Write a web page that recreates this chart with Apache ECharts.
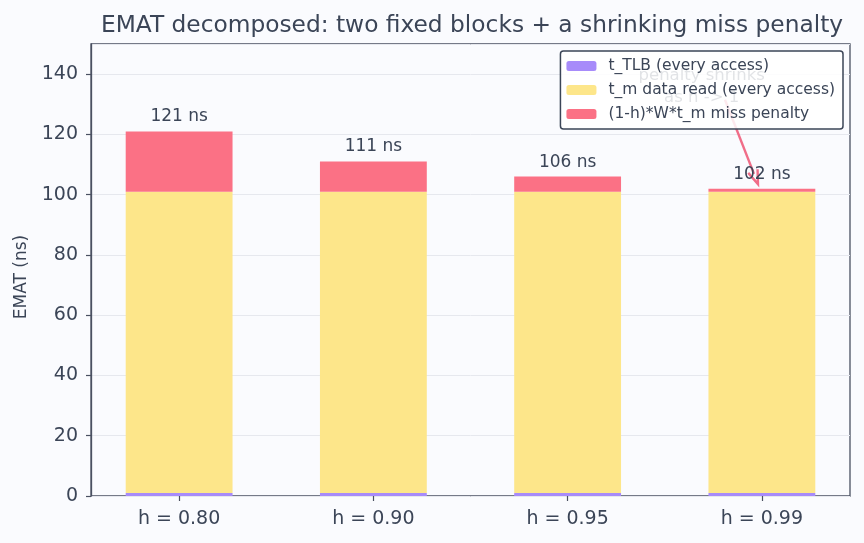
<!DOCTYPE html>
<html>
<head>
<meta charset="utf-8">
<script src="https://cdn.jsdelivr.net/npm/echarts@6/dist/echarts.min.js"></script>
<style>
  html, body { margin: 0; padding: 0; background: #fafbfe; }
  #chart { width: 864px; height: 543px; }
</style>
</head>
<body>
<div id="chart"></div>
<script>
// data
const categories = ["h = 0.80", "h = 0.90", "h = 0.95", "h = 0.99"];
const tlb = [1, 1, 1, 1];
const dataRead = [100, 100, 100, 100];
const missPenalty = [20, 10, 5, 1];
const totals = [121, 111, 106, 102];

const txt = "#3b4557";
const font = "'DejaVu Sans', sans-serif";

let chart = echarts.init(document.getElementById("chart"));

let option = {
  backgroundColor: "#fafbfe",
  textStyle: { fontFamily: font },
  title: {
    text: "EMAT decomposed: two fixed blocks + a shrinking miss penalty",
    left: 467,
    textAlign: "center",
    top: 9,
    textStyle: { color: txt, fontSize: 23.3, fontWeight: "normal", fontFamily: font },
  },
  legend: {
    orient: "vertical",
    right: 21,
    top: 51,
    z: 10,
    itemWidth: 30,
    itemHeight: 10,
    itemGap: 8,
    padding: [7, 8, 7, 6],
    backgroundColor: "rgba(255,255,255,0.85)",
    borderColor: "#3b4557",
    borderWidth: 1.5,
    borderRadius: 3,
    textStyle: { color: txt, fontSize: 15.5, fontFamily: font, padding: [0, 0, 0, 7] },
    data: ["t_TLB (every access)", "t_m data read (every access)", "(1-h)*W*t_m miss penalty"],
  },
  grid: [
    // bars grid (wider, matches matplotlib margins)
    { left: 82, width: 777, top: 44, bottom: 47, show: false },
    // frame grid
    { left: 91, right: 14, top: 44, bottom: 47, show: true, borderColor: "#4a5061", borderWidth: 1.3, backgroundColor: "transparent" },
  ],
  xAxis: [
    {
      type: "category",
      gridIndex: 0,
      data: categories,
      axisLine: { show: true, lineStyle: { color: "rgba(0,0,0,0)" } },
      axisTick: { show: true, alignWithLabel: true, length: 5, lineStyle: { color: "#4a5061", width: 1.2 } },
      axisLabel: { color: txt, fontSize: 19, margin: 14, fontFamily: font },
    },
    { type: "value", gridIndex: 1, show: false },
  ],
  yAxis: [
    { type: "value", gridIndex: 0, min: 0, max: 150, interval: 20, show: false, splitLine: { show: false } },
    {
      type: "value",
      gridIndex: 1,
      min: 0,
      max: 150,
      interval: 20,
      name: "EMAT (ns)",
      nameLocation: "middle",
      nameGap: 61,
      nameTextStyle: { color: txt, fontSize: 17, fontFamily: font, padding: [0, 14, 0, 0] },
      axisLine: { show: true, lineStyle: { color: "#4a5061", width: 1.3 } },
      axisTick: { show: true, length: 5, lineStyle: { color: "#4a5061", width: 1.2 } },
      axisLabel: { color: txt, fontSize: 19, margin: 13, showMaxLabel: false, fontFamily: font },
      splitLine: { show: true, lineStyle: { color: "#e6e8ee", width: 1 } },
    },
  ],
  series: [
    {
      name: "t_TLB (every access)",
      type: "bar",
      stack: "emat",
      xAxisIndex: 0,
      yAxisIndex: 0,
      barWidth: "55%",
      itemStyle: { color: "#a78bfa" },
      data: tlb,
    },
    {
      name: "t_m data read (every access)",
      type: "bar",
      stack: "emat",
      xAxisIndex: 0,
      yAxisIndex: 0,
      itemStyle: { color: "#fde68a" },
      data: dataRead,
    },
    {
      name: "(1-h)*W*t_m miss penalty",
      type: "bar",
      stack: "emat",
      xAxisIndex: 0,
      yAxisIndex: 0,
      itemStyle: { color: "#fb7185" },
      label: {
        show: true,
        position: "top",
        distance: 6,
        color: txt,
        fontSize: 17,
        fontFamily: font,
        formatter: (p) => totals[p.dataIndex] + " ns",
      },
      data: missPenalty,
    },
  ],
};

chart.setOption(option);

// annotation: "penalty shrinks" with arrow to the last bar
function px(xIdx, y) {
  let a = chart.convertToPixel({ gridIndex: 0 }, [categories[2], 0]);
  let b = chart.convertToPixel({ gridIndex: 0 }, [categories[3], 0]);
  let step = b[0] - a[0];
  let p = chart.convertToPixel({ gridIndex: 0 }, [categories[3], y]);
  return [b[0] + (xIdx - 3) * step, p[1]];
}
let arrowFrom = px(2.81, 131.5);
let arrowTo = px(2.98, 103.5);
let textAt = px(2.69, 135.7);
let ang = Math.atan2(arrowTo[1] - arrowFrom[1], arrowTo[0] - arrowFrom[0]);
let hl = 11, hw = 5;
let base = [arrowTo[0] - hl * Math.cos(ang), arrowTo[1] - hl * Math.sin(ang)];
chart.setOption({
  graphic: [
    {
      type: "text",
      z: 1,
      x: textAt[0],
      y: textAt[1],
      style: {
        text: "penalty shrinks\nas h -> 1",
        fill: txt,
        fontSize: 16.5,
        fontFamily: font,
        align: "center",
        verticalAlign: "middle",
        lineHeight: 22,
      },
    },
    {
      type: "line",
      z: 1,
      shape: { x1: arrowFrom[0], y1: arrowFrom[1], x2: base[0], y2: base[1] },
      style: { stroke: "#f06d88", lineWidth: 2.4 },
    },
    {
      type: "polyline",
      z: 1,
      shape: {
        points: [
          [base[0] - hw * Math.sin(ang) - 3 * Math.cos(ang), base[1] + hw * Math.cos(ang) - 3 * Math.sin(ang)],
          arrowTo,
          [base[0] + hw * Math.sin(ang) - 3 * Math.cos(ang), base[1] - hw * Math.cos(ang) - 3 * Math.sin(ang)],
        ],
      },
      style: { stroke: "#f06d88", lineWidth: 2.4, fill: null },
    },
  ],
});
</script>
</body>
</html>
